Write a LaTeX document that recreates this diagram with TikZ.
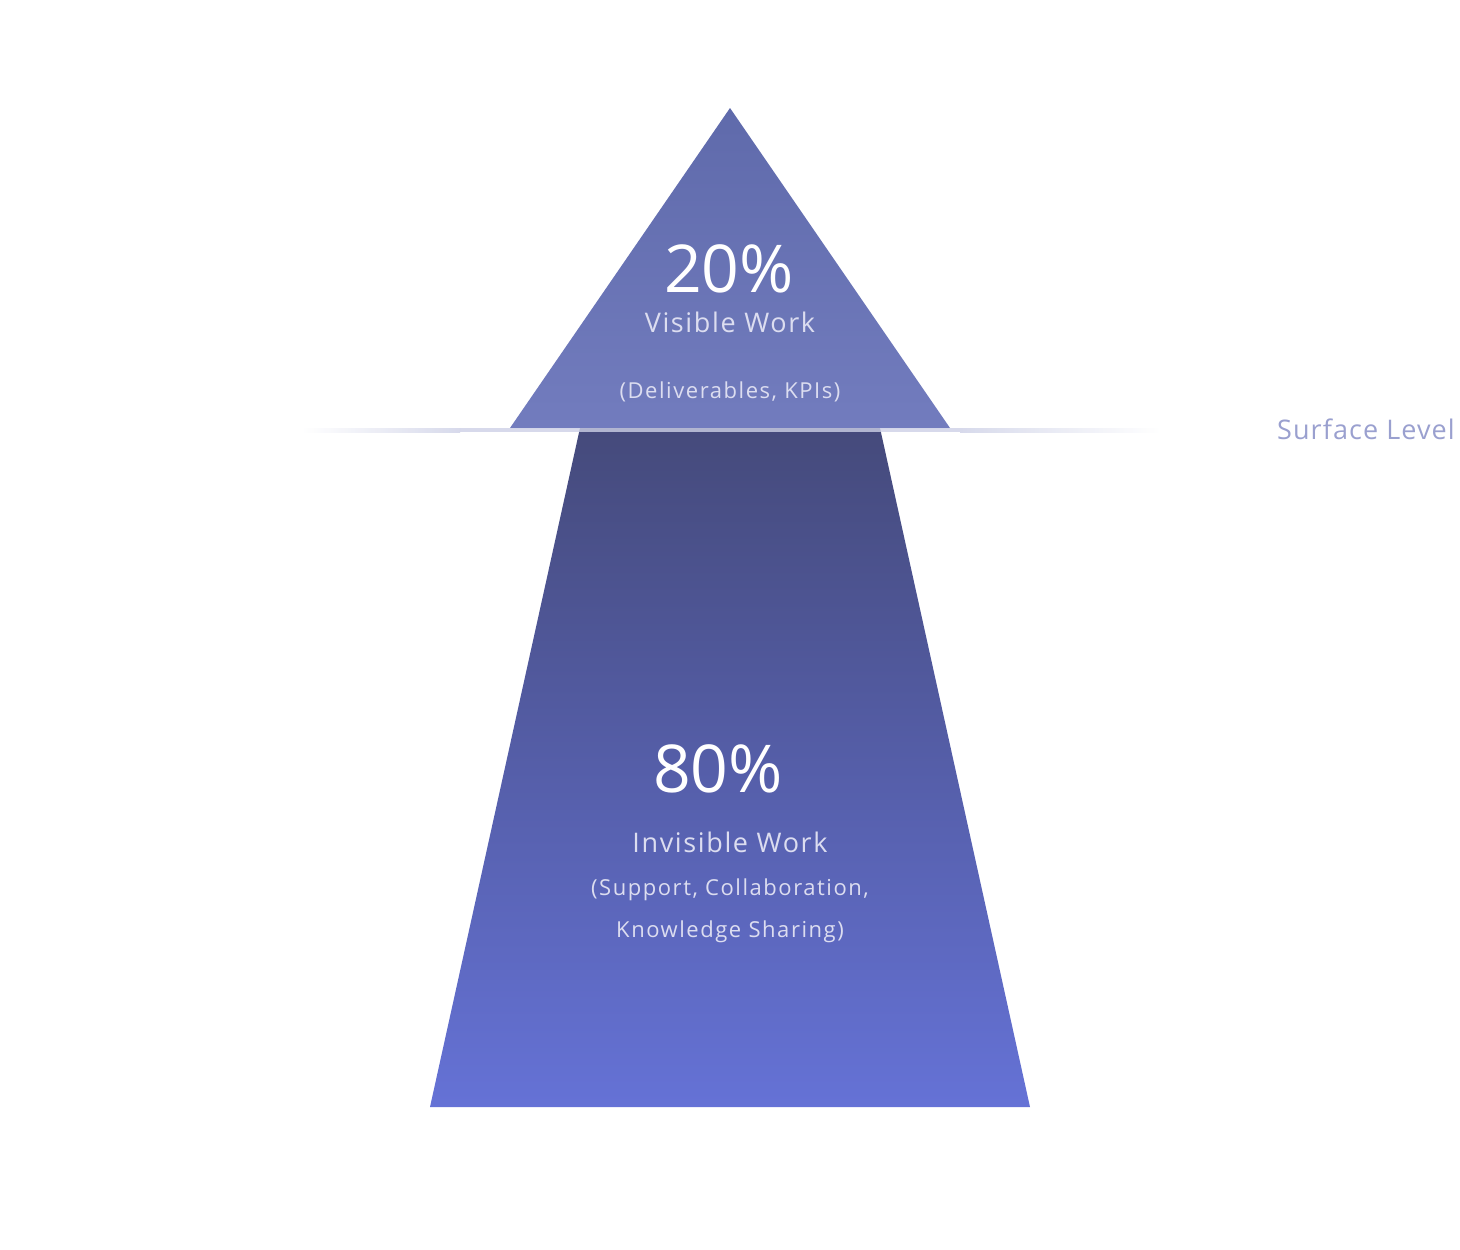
\documentclass[tikz,border=0pt]{standalone}
\usepackage{fontspec}
\setmainfont{Open Sans}
\usepackage{tikz}
\usetikzlibrary{positioning}
\usepackage{xcolor}

\definecolor{tipTop}{HTML}{5F6AAB}
\definecolor{tipBot}{HTML}{727CBE}
\definecolor{baseTop}{HTML}{454A7B}
\definecolor{baseBot}{HTML}{6572D6}
\definecolor{lineCol}{HTML}{CDD0E6}
\definecolor{labelCol}{HTML}{DCDDF0}
\definecolor{levelCol}{HTML}{9AA0CF}

\begin{document}
\begin{tikzpicture}[
  x=1pt, y=-1pt,
  pct/.style={font=\fontsize{66}{66}\selectfont, text=white, anchor=base, inner sep=0pt},
  title/.style={font=\fontsize{27}{27}\selectfont\addfontfeatures{LetterSpace=6}, text=labelCol, anchor=base, inner sep=0pt},
  sub/.style={font=\fontsize{22}{22}\selectfont\addfontfeatures{LetterSpace=7}, text=labelCol, anchor=base, inner sep=0pt},
  level/.style={font=\fontsize{27}{27}\selectfont\addfontfeatures{LetterSpace=4}, text=levelCol, anchor=base east, inner sep=0pt}
]
\useasboundingbox (0,0) rectangle (1460,1250);

%% Shapes
\shade[top color=baseTop, bottom color=baseBot]
  (580,428) -- (880,428) -- (1030,1107) -- (430,1107) -- cycle;
\shade[top color=tipTop, bottom color=tipBot]
  (730,108) -- (950,428) -- (510,428) -- cycle;

%% Surface line
\shade[left color=white, right color=lineCol, opacity=0.8] (302,428) rectangle (460,432);
\fill[lineCol, opacity=0.8] (460,428) rectangle (960,432);
\shade[left color=lineCol, right color=white, opacity=0.8] (960,428) rectangle (1160,432);
\node[level] (surface) at (1455,439) {Surface Level};

%% Visible part
\node[pct]   (visPct)  at (729,292) {20\%};
\node[title] (visName) at (730,332) {Visible Work};
\node[sub]   (visList) at (730,398) {(Deliverables, KPIs)};

%% Hidden part
\node[pct]   (hidPct)   at (718,792) {80\%};
\node[title] (hidName)  at (730,852) {Invisible Work};
\node[sub]   (hidListA) at (730,895) {(Support, Collaboration,};
\node[sub]   (hidListB) at (730,937) {Knowledge Sharing)};

\end{tikzpicture}
\end{document}
